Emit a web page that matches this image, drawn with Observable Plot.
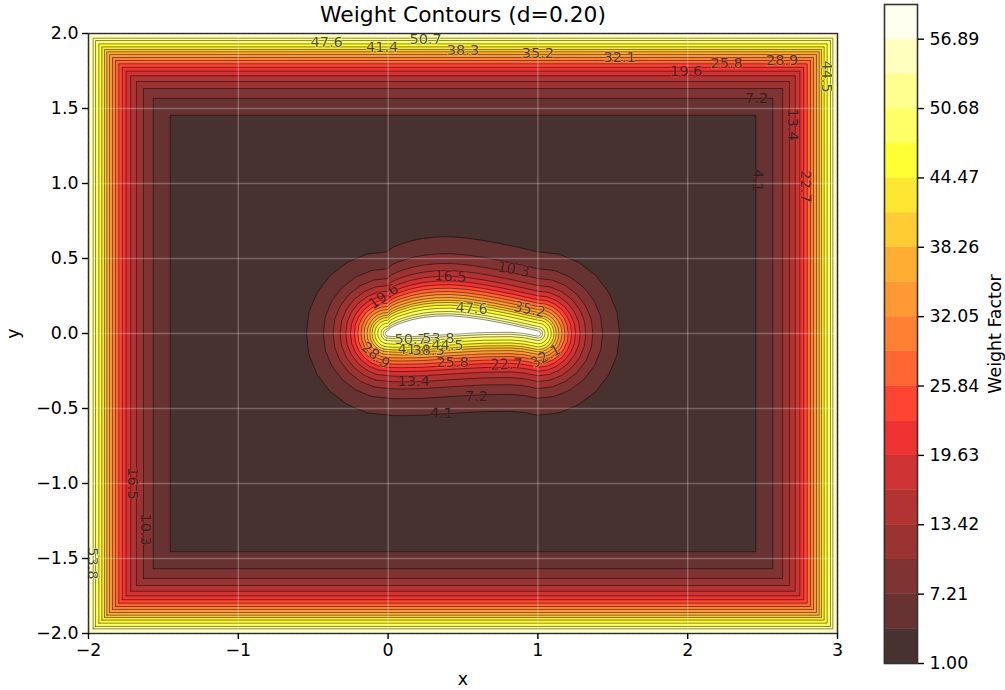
<!DOCTYPE html>
<html>
<head>
<meta charset="utf-8">
<script src="https://cdn.jsdelivr.net/npm/d3@7"></script>
<script src="https://cdn.jsdelivr.net/npm/@observablehq/plot@0.6"></script>
<style>
html,body{margin:0;padding:0;background:#fff;width:1005px;height:690px;overflow:hidden}
#main,#bar{position:absolute;top:0}
#main{left:0}
#bar{left:870px}
svg{background:transparent!important}
</style>
</head>
<body>
<div id="main"></div>
<div id="bar"></div>
<script>
// Contour levels and the inset of each contour from the domain edge / the airfoil
const levels = [4.1,7.2,10.3,13.4,16.5,19.6,22.7,25.8,28.9,32.1,35.2,38.3,41.4,44.5,47.6,50.7,53.8,56.9];
const insets = [.545,.432,.367,.32,.282,.251,.225,.202,.18,.16,.14,.122,.107,.089,.069,.047,.031,.018];
// Colour bands, bottom to top
const bandEdges = [1,4.105,7.21,10.315,13.42,16.525,19.63,22.735,25.84,28.945,32.05,35.155,38.26,41.365,44.47,47.575,50.68,53.785,56.89,59.995];
const bandColors = ["#473230","#663232","#803333","#9c3333","#b33333","#cf3333","#ef3333","#ff4433","#ff6633","#ff7f33","#ff9933","#ffae33","#ffcc33","#ffe633","#ffff33","#ffff66","#ffff8f","#ffffbf","#fffff0"];
const foilCore = "#ffffff";
const rectLevelCount = 17; // the 56.9 contour does not appear along the domain edge
const barTicks = [1,7.21,13.42,19.63,25.84,32.05,38.26,44.47,50.68,56.89];
const xTicks = [-2,-1,0,1,2,3];
const yTicks = [-2,-1.5,-1,-.5,0,.5,1,1.5,2];
const domainX = [-2,3];
const domainY = [-2,2];
// Airfoil outline, with the direction each contour moves away from it
const foilX = [0,0,0,0,0,0,0,0,0,0,0,0,0,
  .01,.03,.06,.1,.16,.235,.32,.416,.52,.637,.73,.82,.91,
  1,1,1,1,1,1,1,1,1,1,1,1,1,
  .91,.82,.637,.416,.235,.1,.03];
const foilY = [0,0,0,0,0,0,0,0,0,0,0,0,0,
  .016,.028,.042,.056,.074,.089,.098,.1,.092,.075,.058,.04,.02,
  0,0,0,0,0,0,0,0,0,0,0,0,0,
  .018,.026,.024,.012,0,-.003,-.002];
const dirX = [-.26,-.5,-.71,-.87,-.97,-1,-.97,-.87,-.71,-.5,-.26,0,0,
  0,0,0,0,0,0,0,0,0,0,0,0,0,
  0,.26,.5,.71,.87,.97,1,.97,.87,.71,.5,.26,0,
  0,0,0,0,0,0,0];
const dirY = [-.97,-.87,-.71,-.5,-.26,0,.26,.5,.71,.87,.97,1,1,
  1,1,1,1,1,1,1,1,1,1,1,1,1,
  1,.97,.87,.71,.5,.26,0,-.26,-.5,-.71,-.87,-.97,-1,
  -1,-1,-1,-1,-1,-1,-1];
// Inline contour labels
const labelText = ["47.6","41.4","50.7","38.3","35.2","32.1","19.6","25.8","28.9","7.2","44.5","13.4","4.1","22.7","16.5","10.3","53.8",
  "16.5","10.3","19.6","47.6","35.2","50.7","53.8","41.4","38.3","44.5","28.9","25.8","22.7","32.1","13.4","7.2","4.1"];
const labelX = [-.41,-.04,.25,.5,1,1.545,1.99,2.26,2.63,2.46,2.93,2.7,2.465,2.786,-1.706,-1.62,-1.973,
  .416,.837,-.03,.557,.944,.15,.336,.17,.27,.396,-.084,.43,.79,1.05,.17,.59,.356];
const labelY = [1.94,1.907,1.96,1.887,1.867,1.84,1.747,1.8,1.82,1.567,1.713,1.393,1.02,.98,-1,-1.307,-1.533,
  .38,.427,.247,.167,.16,-.04,-.033,-.107,-.113,-.08,-.147,-.193,-.207,-.153,-.32,-.42,-.533];
const labelAngle = [0,0,0,0,0,0,0,0,0,0,90,90,90,90,90,90,90,
  3,10,-35,3,12,0,0,0,0,0,40,0,-2,-30,0,0,0];

const font = "'DejaVu Sans', sans-serif";

const outlines = [];
function pushRect(id, inset, fill) {
  const x0 = domainX[0]+inset, x1 = domainX[1]-inset, y0 = domainY[0]+inset, y1 = domainY[1]-inset;
  [[x0,y0],[x1,y0],[x1,y1],[x0,y1],[x0,y0]].forEach(([x,y]) => outlines.push({id,x,y,fill}));
}
function pushFoil(id, inset, fill) {
  const n = foilX.length;
  for (let j = 0; j <= n; j++) {
    const i = j % n;
    outlines.push({id, x: foilX[i]+inset*dirX[i], y: foilY[i]+inset*dirY[i], fill});
  }
}
// painter's order: outermost rectangle inward, then the airfoil contours outward-in
for (let k = rectLevelCount-1; k >= 0; k--) pushRect("r"+k, insets[k], bandColors[k]);
for (let k = 0; k < levels.length; k++) pushFoil("f"+k, insets[k], k === levels.length-1 ? foilCore : bandColors[k+1]);

const labels = labelText.map((t,i) => ({
  t, x: labelX[i], y: labelY[i], a: labelAngle[i],
  halo: bandColors[levels.indexOf(+t)+1]
}));
const edge = [[domainX[0],domainY[0]],[domainX[1],domainY[0]],[domainX[1],domainY[1]],[domainX[0],domainY[1]],[domainX[0],domainY[0]]];

const main = Plot.plot({
  width: 870, height: 690,
  marginLeft: 88, marginRight: 33, marginTop: 33, marginBottom: 57,
  style: {fontFamily: font, background: "transparent", color: "#000"},
  x: {domain: domainX},
  y: {domain: domainY},
  color: {type: "identity"},
  marks: [
    Plot.rect([0], {x1: domainX[0], x2: domainX[1], y1: domainY[0], y2: domainY[1], fill: bandColors[rectLevelCount]}),
    Plot.line(outlines, {x: "x", y: "y", z: "id", fill: "fill", stroke: "#000", strokeOpacity: .55, strokeWidth: .85}),
    Plot.gridX(xTicks, {stroke: "#fff", strokeOpacity: .25, strokeWidth: 1.4}),
    Plot.gridY(yTicks, {stroke: "#fff", strokeOpacity: .25, strokeWidth: 1.4}),
    Plot.text(labels, {x: "x", y: "y", text: "t", rotate: "a", fontSize: 14.5, fill: "#1a1a1a", fillOpacity: .78,
      stroke: "halo", strokeWidth: 1, paintOrder: "stroke", lineAnchor: "middle"}),
    Plot.frame({stroke: "#222", strokeWidth: 1.4}),
    Plot.line(edge, {x: d => d[0], y: d => d[1], stroke: "#334", strokeWidth: 1.2, strokeDasharray: "4,2", strokeOpacity: .8}),
    Plot.axisX({ticks: xTicks, tickFormat: "d", tickSize: 6, tickPadding: 4, fontSize: 17.4, strokeWidth: 1.4,
      label: "x", labelAnchor: "center", labelArrow: "none", labelOffset: 51}),
    Plot.axisY({ticks: yTicks, tickFormat: ".1f", tickSize: 6, tickPadding: 4, fontSize: 17.4, strokeWidth: 1.4,
      label: "y", labelAnchor: "center", labelArrow: "none", labelOffset: 82}),
    Plot.text(["Weight Contours (d=0.20)"], {frameAnchor: "top", dy: -18, fontSize: 21.8, fill: "#000", lineAnchor: "middle"})
  ]
});
document.getElementById("main").append(main);

const bands = bandColors.map((c,i) => ({y1: bandEdges[i], y2: bandEdges[i+1], c}));
const bar = Plot.plot({
  width: 135, height: 690,
  marginLeft: 14, marginRight: 88, marginTop: 4, marginBottom: 27,
  style: {fontFamily: font, background: "transparent", color: "#000"},
  x: {domain: [0,1], axis: null},
  y: {domain: [bandEdges[0], bandEdges[19]]},
  color: {type: "identity"},
  marks: [
    Plot.rect(bands, {x1: 0, x2: 1, y1: "y1", y2: "y2", fill: "c", stroke: "c", strokeWidth: .4}),
    Plot.frame({stroke: "#333", strokeWidth: 1.6}),
    Plot.axisY({anchor: "right", ticks: barTicks, tickFormat: ".2f", tickSize: 6, tickPadding: 6, fontSize: 17.4, strokeWidth: 1.4,
      label: "Weight Factor", labelAnchor: "center", labelArrow: "none", labelOffset: 83})
  ]
});
document.getElementById("bar").append(bar);
</script>
</body>
</html>
